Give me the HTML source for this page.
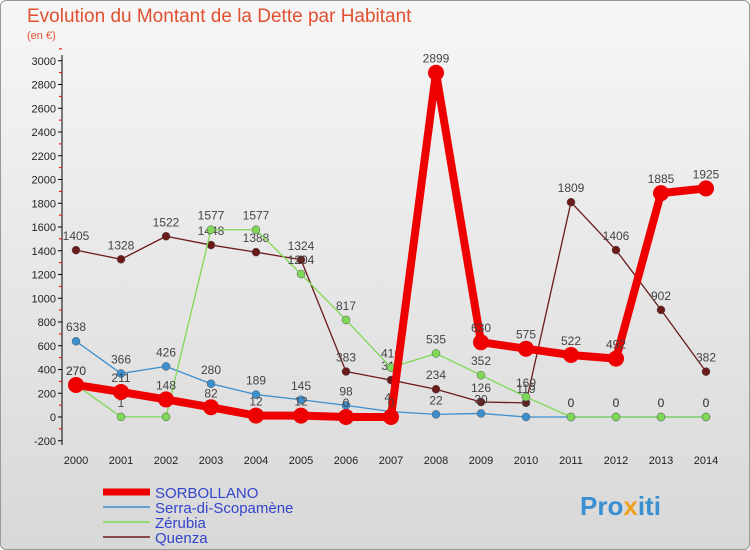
<!DOCTYPE html>
<html><head><meta charset="utf-8"><style>
body{margin:0;width:750px;height:550px;overflow:hidden;font-family:"Liberation Sans",sans-serif}
#wrap{position:relative;width:748px;height:548px;border:1px solid #999;border-radius:6px;background:linear-gradient(#f6f6f6,#d8d8d8);overflow:hidden}
</style></head><body>
<div id="wrap">
<svg id="chart" width="750" height="550" style="position:absolute;left:-1px;top:-1px">
<text x="27" y="22" font-size="19" fill="#e05030">Evolution du Montant de la Dette par Habitant</text>
<text x="27" y="39" font-size="11" fill="#e05030">(en €)</text>
<g id="axes"></g><g id="series"></g>
<g>
<line x1="103" y1="492" x2="150" y2="492" stroke="#ee0000" stroke-width="7"/>
<text x="155" y="498" font-size="15" fill="#3344cc">SORBOLLANO</text>
<line x1="103" y1="507" x2="150" y2="507" stroke="#3c8fcf" stroke-width="1.5"/>
<text x="155" y="513" font-size="15" fill="#3344cc">Serra-di-Scopamène</text>
<line x1="103" y1="522" x2="150" y2="522" stroke="#7ed957" stroke-width="1.5"/>
<text x="155" y="528" font-size="15" fill="#3344cc">Zérubia</text>
<line x1="103" y1="537" x2="150" y2="537" stroke="#6b1a1a" stroke-width="1.5"/>
<text x="155" y="543" font-size="15" fill="#3344cc">Quenza</text>
</g>
<text x="580" y="515" font-size="26" font-weight="bold" fill="#3a8fd0">Pro<tspan fill="#f0a020">x</tspan>iti</text>
</svg></div>
<script>
const years=[2000,2001,2002,2003,2004,2005,2006,2007,2008,2009,2010,2011,2012,2013,2014];
const yTicks=[-200,0,200,400,600,800,1000,1200,1400,1600,1800,2000,2200,2400,2600,2800,3000];
const sorbollano=[270,211,148,82,12,12,0,0,2899,630,575,522,492,1885,1925];
const serra=[638,366,426,280,189,145,98,45,22,30,0,0,0,0,0];
const zerubia=[270,1,1,1577,1577,1204,817,416,535,352,169,0,0,0,0];
const quenza=[1405,1328,1522,1448,1388,1324,383,311,234,126,119,1809,1406,902,382];
const NS='http://www.w3.org/2000/svg';
const X=i=>76+i*45, Y=v=>417-v*(380/3200);
function mk(t,a,p){const e=document.createElementNS(NS,t);for(const k in a)e.setAttribute(k,a[k]);p.appendChild(e);return e;}
const ax=document.getElementById('axes'), sg=document.getElementById('series');
const yl=mk('line',{x1:62,y1:55,x2:62,y2:445,stroke:'#000'},ax);


yTicks.forEach(v=>{
  mk('line',{x1:58,y1:Y(v),x2:62,y2:Y(v),stroke:'#000'},ax);
  mk('line',{x1:59,y1:Y(v+100),x2:62,y2:Y(v+100),stroke:'#e00'},ax);
  const t=mk('text',{x:56,y:Y(v)+4,'font-size':11,'text-anchor':'end',fill:'#222'},ax);
  
  
  t.textContent=v;
});
years.forEach((y,i)=>{
  const t=mk('text',{x:X(i),y:464,'font-size':11,'text-anchor':'middle',fill:'#222'},ax);
  
  
  t.textContent=y;
});
function draw(data,color,w,r,name){
  const g=mk('g',{},sg);
  
  
  mk('polyline',{points:data.map((v,i)=>X(i)+','+Y(v)).join(' '),fill:'none',stroke:color,'stroke-width':w,'stroke-linejoin':'round'},g);
  data.forEach((v,i)=>{
    const c=mk('circle',{cx:X(i),cy:Y(v),r:r,fill:color,stroke:w>3?'none':'#555','stroke-width':0.5},g);
    
    
    const t=mk('text',{x:X(i),y:Y(v)-10,'font-size':12,'text-anchor':'middle',fill:'#444'},g);
    
    
    t.textContent=v;
  });
}
draw(quenza,'#6b1a1a',1.3,4,'quenza');
draw(serra,'#3c8fcf',1.3,4,'serra');
draw(zerubia,'#7ed957',1.3,4,'zerubia');
draw(sorbollano,'#ee0000',8,8,'sorbollano');
</script>
</body></html>
